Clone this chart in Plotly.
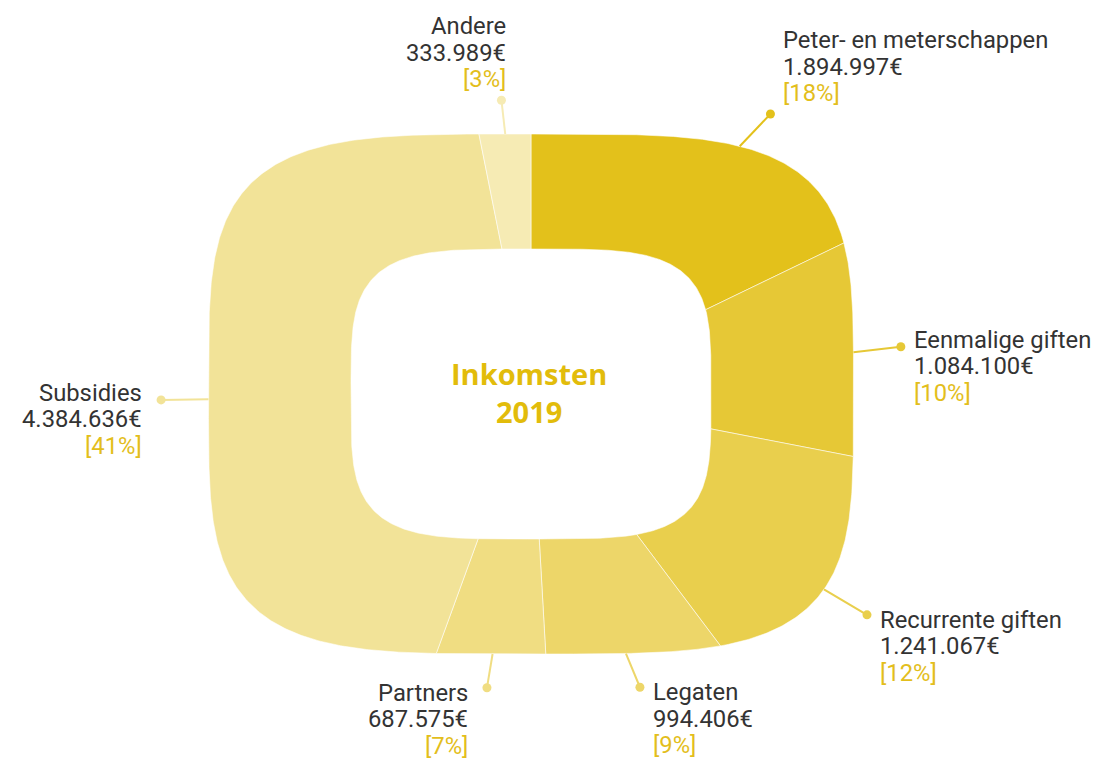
import numpy as np
import plotly.graph_objects as go

# ---------------- data ----------------
categories = ["Peter- en meterschappen", "Eenmalige giften", "Recurrente giften",
              "Legaten", "Partners", "Subsidies", "Andere"]
values = [1894997, 1084100, 1241067, 994406, 687575, 4384636, 333989]
value_labels = ["1.894.997€", "1.084.100€", "1.241.067€", "994.406€",
                "687.575€", "4.384.636€", "333.989€"]
pct_labels = ["[18%]", "[10%]", "[12%]", "[9%]", "[7%]", "[41%]", "[3%]"]
title_lines = ["Inkomsten", "2019"]

# ---------------- style / layout ----------------
W, H = 1098, 761
CX, CY = 531, 394
OUT_A, OUT_B = 322.5, 260.0
IN_A, IN_B = 180.0, 145.0
EXP = 4.0
BASE = (227, 193, 27)
opacities = [1.0, 0.88, 0.78, 0.66, 0.55, 0.45, 0.33]
label_angle_nudge = [8.0, 0, 1.7, 0, 0, -5.3, 0]
DOT_SX, DOT_SY = 1.147, 1.13
FONT = "Roboto"
LABEL_SIZE = 23.8
LINE_GAP = 26.4
TEXT_COLOR = "#333333"
PCT_COLOR = "#E3BE1C"
TITLE_COLOR = "#E2BC0B"


def blend(o):
    return "rgb({:.0f},{:.0f},{:.0f})".format(*[255 - (255 - c) * o for c in BASE])


def boundary(theta_deg, a, b):
    t = np.radians(theta_deg)
    dx, dy = np.sin(t), -np.cos(t)
    r = 1.0 / ((np.abs(dx) / a) ** EXP + (np.abs(dy) / b) ** EXP) ** (1.0 / EXP)
    return CX + r * dx, CY + r * dy


total = float(sum(values))
cum = np.cumsum(values)
starts = 360.0 * (cum - np.array(values)) / total
ends = 360.0 * cum / total

fig = go.Figure()

# slices
for i, cat in enumerate(categories):
    n = max(int((ends[i] - starts[i]) * 3), 4)
    th = np.linspace(starts[i], ends[i], n)
    ox, oy = boundary(th, OUT_A, OUT_B)
    ix, iy = boundary(th[::-1], IN_A, IN_B)
    xs = np.concatenate([ox, ix, ox[:1]])
    ys = np.concatenate([oy, iy, oy[:1]])
    fig.add_trace(go.Scatter(x=xs, y=ys, mode="lines", fill="toself",
                             fillcolor=blend(opacities[i]),
                             line=dict(color="rgba(255,255,255,0.55)", width=1),
                             hoverinfo="text", text=cat, showlegend=False))

annotations = []
for i, cat in enumerate(categories):
    col = blend(opacities[i])
    mid = (starts[i] + ends[i]) / 2 + label_angle_nudge[i]
    sx, sy = boundary(mid, OUT_A, OUT_B)
    sx, sy = float(sx), float(sy)
    px, py = CX + DOT_SX * (sx - CX), CY + DOT_SY * (sy - CY)
    fig.add_trace(go.Scatter(x=[sx, px], y=[sy, py], mode="lines",
                             line=dict(color=col, width=2),
                             hoverinfo="skip", showlegend=False))
    fig.add_trace(go.Scatter(x=[px], y=[py], mode="markers",
                             marker=dict(color=col, size=9),
                             hoverinfo="skip", showlegend=False))
    t = np.radians(mid)
    dx, dy = np.sin(t), -np.cos(t)
    if dy < -0.9:
        tx, xa = px + 7, "right"
    elif dx > 0:
        tx, xa = px + 11, "left"
    else:
        tx, xa = px - 17, "right"
    if dy < -0.5:
        first = py - 21 - 2 * LINE_GAP
    elif abs(dy) < 0.3:
        first = py - 7
    else:
        first = py + 5
    lines = [(cat, TEXT_COLOR), (value_labels[i], TEXT_COLOR), (pct_labels[i], PCT_COLOR)]
    for k, (txt, c) in enumerate(lines):
        annotations.append(dict(x=tx, y=first + k * LINE_GAP, xref="x", yref="y",
                                text=txt, showarrow=False, xanchor=xa, yanchor="middle",
                                font=dict(family=FONT, size=LABEL_SIZE, color=c)))

annotations.append(dict(x=CX - 2, y=392, xref="x", yref="y",
                        text="<br>".join("<b>%s</b>" % t for t in title_lines),
                        showarrow=False, xanchor="center", yanchor="middle", align="center",
                        font=dict(family="Open Sans", size=29, color=TITLE_COLOR, weight=800)))

fig.update_layout(
    width=W, height=H, margin=dict(l=0, r=0, t=0, b=0),
    paper_bgcolor="white", plot_bgcolor="white",
    xaxis=dict(range=[0, W], visible=False, fixedrange=True),
    yaxis=dict(range=[H, 0], visible=False, fixedrange=True),
    annotations=annotations, showlegend=False,
)

fig.write_html("out.html", config={"displayModeBar": False},
               post_script="document.body.style.margin='0';document.body.style.overflow='hidden';")
